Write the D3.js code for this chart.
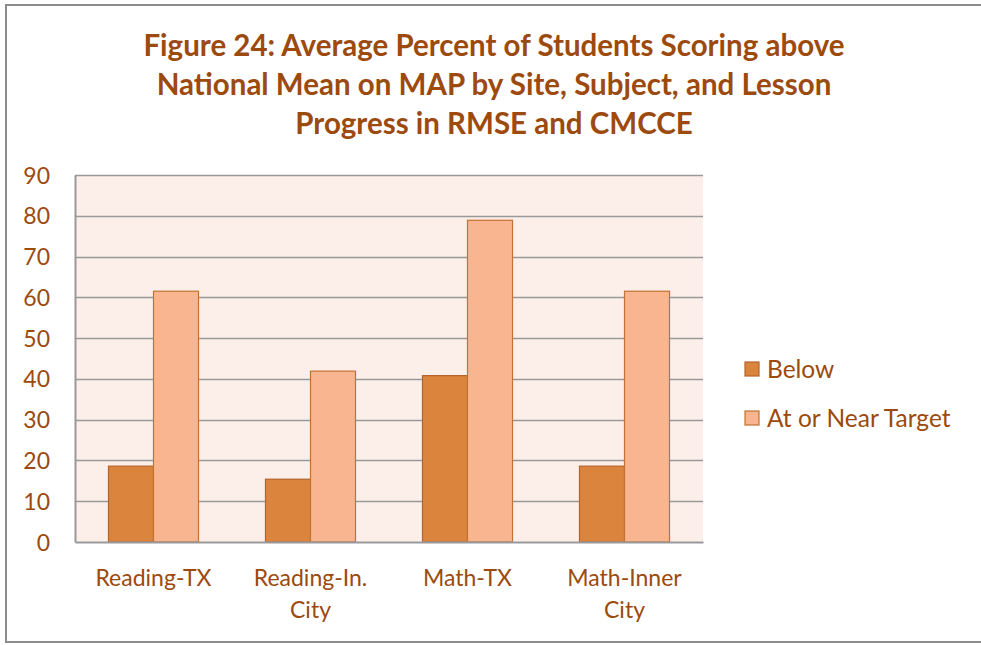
<!DOCTYPE html>
<html lang="en">
<head>
  <meta charset="utf-8">
  <script src="https://d3js.org/d3.v7.min.js"></script>
  <style>
    body { margin: 0; background: #fff; }
    svg text { font-family: Lato, "Open Sans", sans-serif; fill: #9c4a0d; }
    .title { font-weight: bold; font-size: 29.5px; }
    .tick text { font-size: 23px; }
    .legend text { font-size: 24.5px; }
  </style>
</head>
<body>
  <svg id="chart" width="981" height="645"></svg>
  <script>
    // chart values
    var categories = ["Reading-TX", "Reading-In. City", "Math-TX", "Math-Inner City"];
    var categoryLines = [["Reading-TX"], ["Reading-In.", "City"], ["Math-TX"], ["Math-Inner", "City"]];
    var seriesNames = ["Below", "At or Near Target"];
    var below = [18.6, 15.4, 40.8, 18.6];
    var nearTarget = [61.5, 41.9, 78.9, 61.5];
    var yTicks = [0, 10, 20, 30, 40, 50, 60, 70, 80, 90];
    var titleLines = [
      "Figure 24: Average Percent of Students Scoring above",
      "National Mean on MAP by Site, Subject, and Lesson",
      "Progress in RMSE and CMCCE"
    ];

    var colors = { fill: ["#db843e", "#f8b590"], stroke: ["#b5642a", "#c4722f"] };

    var svg = d3.select("#chart");
    var plot = { left: 75, right: 703, top: 175, bottom: 542 };

    // outer frame (no right edge visible)
    svg.append("path")
      .attr("d", "M986,5 H6 V642 H986")
      .attr("fill", "none")
      .attr("stroke", "#8c8c8c")
      .attr("stroke-width", 2);

    svg.append("g").attr("class", "title")
      .selectAll("text")
      .data(titleLines)
      .enter().append("text")
        .attr("x", 494)
        .attr("y", function(d, i) { return 56 + i * 39; })
        .attr("text-anchor", "middle")
        .text(function(d) { return d; });

    var x0 = d3.scaleBand()
      .domain(categories)
      .range([plot.left, plot.right])
      .padding(0);

    var x1 = d3.scaleBand()
      .domain(seriesNames)
      .range([0, x0.bandwidth()])
      .paddingInner(0)
      .paddingOuter(0.744);

    var y = d3.scaleLinear()
      .domain([0, 90])
      .range([plot.bottom, plot.top]);

    svg.append("rect")
      .attr("x", plot.left)
      .attr("y", plot.top)
      .attr("width", plot.right - plot.left)
      .attr("height", plot.bottom - plot.top)
      .attr("fill", "#fcefea");

    // gridlines
    svg.append("g")
      .selectAll("line")
      .data(yTicks.slice(1))
      .enter().append("line")
        .attr("x1", plot.left)
        .attr("x2", plot.right)
        .attr("y1", function(d) { return Math.round(y(d)) + 0.5; })
        .attr("y2", function(d) { return Math.round(y(d)) + 0.5; })
        .attr("stroke", "#999")
        .attr("stroke-width", 1.5);

    var rows = categories.map(function(c, i) {
      return { cat: c, values: [below[i], nearTarget[i]] };
    });

    var groups = svg.append("g")
      .selectAll("g")
      .data(rows)
      .enter().append("g")
        .attr("transform", function(d) { return "translate(" + x0(d.cat) + ",0)"; });

    groups.selectAll("rect")
      .data(function(d) {
        return d.values.map(function(v, j) { return { s: seriesNames[j], v: v, j: j }; });
      })
      .enter().append("rect")
        .attr("x", function(d) { return x1(d.s); })
        .attr("y", function(d) { return y(d.v); })
        .attr("width", x1.bandwidth())
        .attr("height", function(d) { return y(0) - y(d.v); })
        .attr("fill", function(d) { return colors.fill[d.j]; })
        .attr("stroke", function(d) { return colors.stroke[d.j]; })
        .attr("stroke-width", 1.2);

    // axes
    var yAxis = svg.append("g")
      .attr("transform", "translate(" + plot.left + ",0)")
      .call(d3.axisLeft(y).tickValues(yTicks).tickSize(0).tickPadding(25));
    yAxis.select(".domain").attr("stroke", "#999").attr("stroke-width", 2);
    yAxis.selectAll(".tick text").attr("dy", "0.35em");

    var xAxis = svg.append("g")
      .attr("transform", "translate(0," + plot.bottom + ")")
      .call(d3.axisBottom(x0).tickSize(0).tickFormat(""));
    xAxis.select(".domain").attr("stroke", "#999").attr("stroke-width", 2);

    xAxis.selectAll(".tick").each(function(d, i) {
      var t = d3.select(this).append("text")
        .attr("text-anchor", "middle")
        .attr("y", 44);
      categoryLines[i].forEach(function(line, k) {
        t.append("tspan").attr("x", 0).attr("dy", k === 0 ? 0 : 32).text(line);
      });
    });

    // legend
    var legend = svg.append("g").attr("class", "legend")
      .selectAll("g")
      .data(seriesNames)
      .enter().append("g")
        .attr("transform", function(d, i) { return "translate(745," + (362 + i * 49) + ")"; });
    legend.append("rect")
      .attr("width", 14)
      .attr("height", 14)
      .attr("fill", function(d, i) { return colors.fill[i]; })
      .attr("stroke", function(d, i) { return colors.stroke[i]; })
      .attr("stroke-width", 1.2);
    legend.append("text")
      .attr("x", 22)
      .attr("y", 16)
      .text(function(d) { return d; });
  </script>
</body>
</html>
